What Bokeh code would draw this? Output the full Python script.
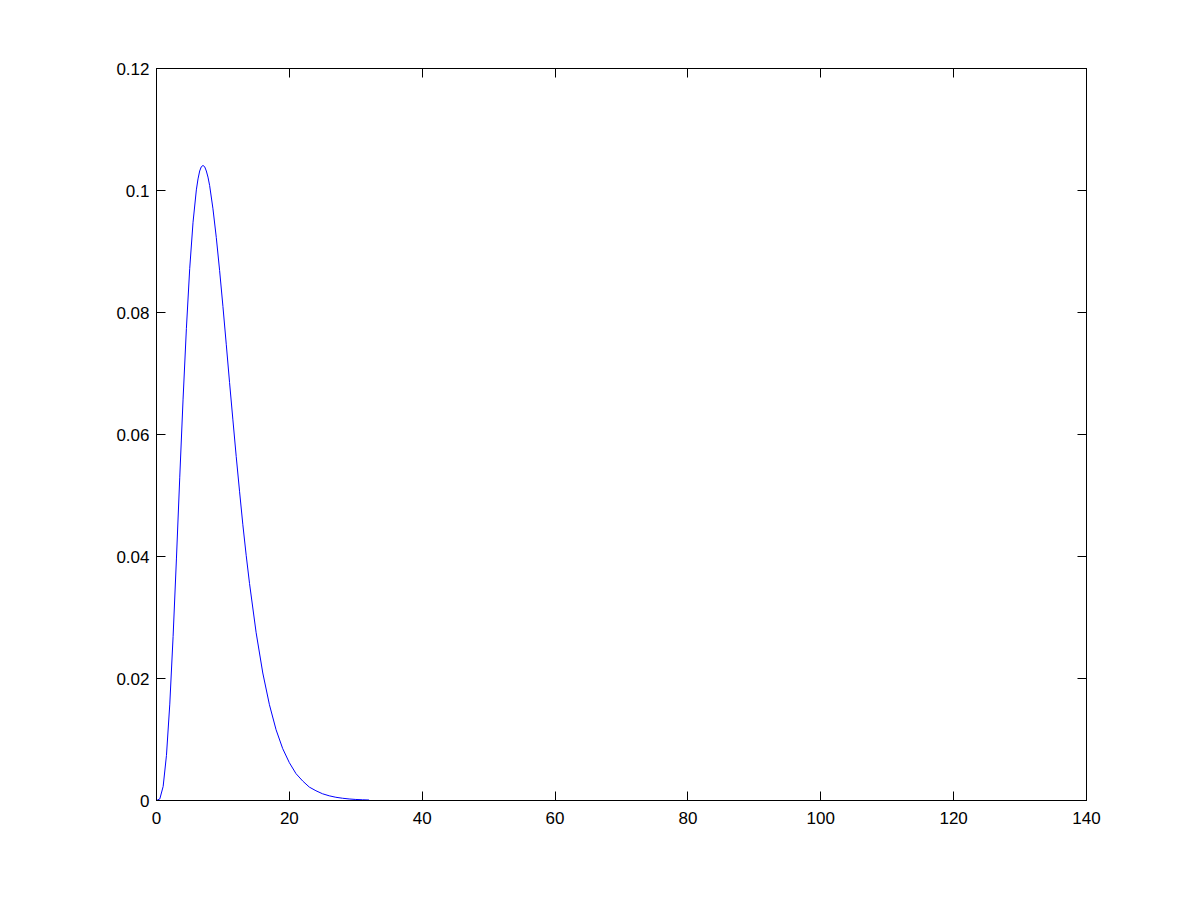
from bokeh.plotting import figure
from bokeh.models import Range1d, FixedTicker, LinearAxis, CustomJSTickFormatter
from bokeh.embed import file_html
from bokeh.resources import INLINE

# Curve values
xs = [0, 0.5, 1, 1.5, 2, 2.5, 3, 3.5, 4, 4.5, 5, 5.5, 6, 6.25, 6.5, 6.75, 7, 7.25,
      7.5, 7.75, 8, 8.5, 9, 9.5,
      10, 10.5, 11, 11.5, 12, 12.5, 13, 13.5, 14, 15, 16, 17, 18, 19, 20, 21, 22, 23,
      24, 25, 26, 27, 28, 29, 30, 31, 32]
ys = [0, 0.00026, 0.0023, 0.0074, 0.0158, 0.0269, 0.0396, 0.0530, 0.0658, 0.0774,
      0.0872, 0.0948, 0.1001, 0.1019, 0.1032, 0.1039, 0.1041, 0.1039,
      0.1032, 0.1022, 0.1008, 0.0970, 0.0923, 0.0869,
      0.0810, 0.0748, 0.0685, 0.0624, 0.0564, 0.0507, 0.0452, 0.0402, 0.0356, 0.0275,
      0.0209, 0.0157, 0.0116, 0.0085, 0.0062, 0.0044, 0.0032, 0.0022, 0.0016, 0.0011,
      0.00077, 0.00053, 0.00037, 0.00025, 0.00017, 0.00012, 0.00008]

x_ticks = [0, 20, 40, 60, 80, 100, 120, 140]
x_tick_labels = ["0", "20", "40", "60", "80", "100", "120", "140"]
y_ticks = [0, 0.02, 0.04, 0.06, 0.08, 0.1, 0.12]
y_tick_labels = ["0", "0.02", "0.04", "0.06", "0.08", "0.1", "0.12"]

FONT = "Liberation Sans"
FS = "17px"

p = figure(width=1200, height=900, output_backend="svg", toolbar_location=None,
           x_range=Range1d(0, 140), y_range=Range1d(0, 0.12),
           min_border_left=156, min_border_right=114, min_border_top=68,
           min_border_bottom=100)
p.background_fill_color = "white"
p.border_fill_color = "white"
p.outline_line_color = "black"
p.outline_line_width = 1
p.xgrid.visible = False
p.ygrid.visible = False

p.line(xs, ys, line_color="#0000ff", line_width=1)

def style(ax, ticks, labels=None):
    ax.ticker = FixedTicker(ticks=ticks)
    ax.axis_line_color = "black"
    ax.major_tick_line_color = "black"
    ax.major_tick_in = 9
    ax.major_tick_out = 0
    ax.minor_tick_line_color = None
    ax.major_label_text_font = FONT
    ax.major_label_text_font_size = FS
    ax.major_label_text_color = "black"
    if labels is not None:
        ax.major_label_overrides = {t: l for t, l in zip(ticks, labels)}
    else:
        ax.formatter = CustomJSTickFormatter(code="return ''")

style(p.xaxis[0], x_ticks, x_tick_labels)
style(p.yaxis[0], y_ticks, y_tick_labels)
p.xaxis[0].major_label_standoff = 11
p.yaxis[0].major_label_standoff = 7

top = LinearAxis()
style(top, x_ticks)
p.add_layout(top, "above")
right = LinearAxis()
style(right, y_ticks)
p.add_layout(right, "right")

open("out.html", "w").write(file_html(p, INLINE))
